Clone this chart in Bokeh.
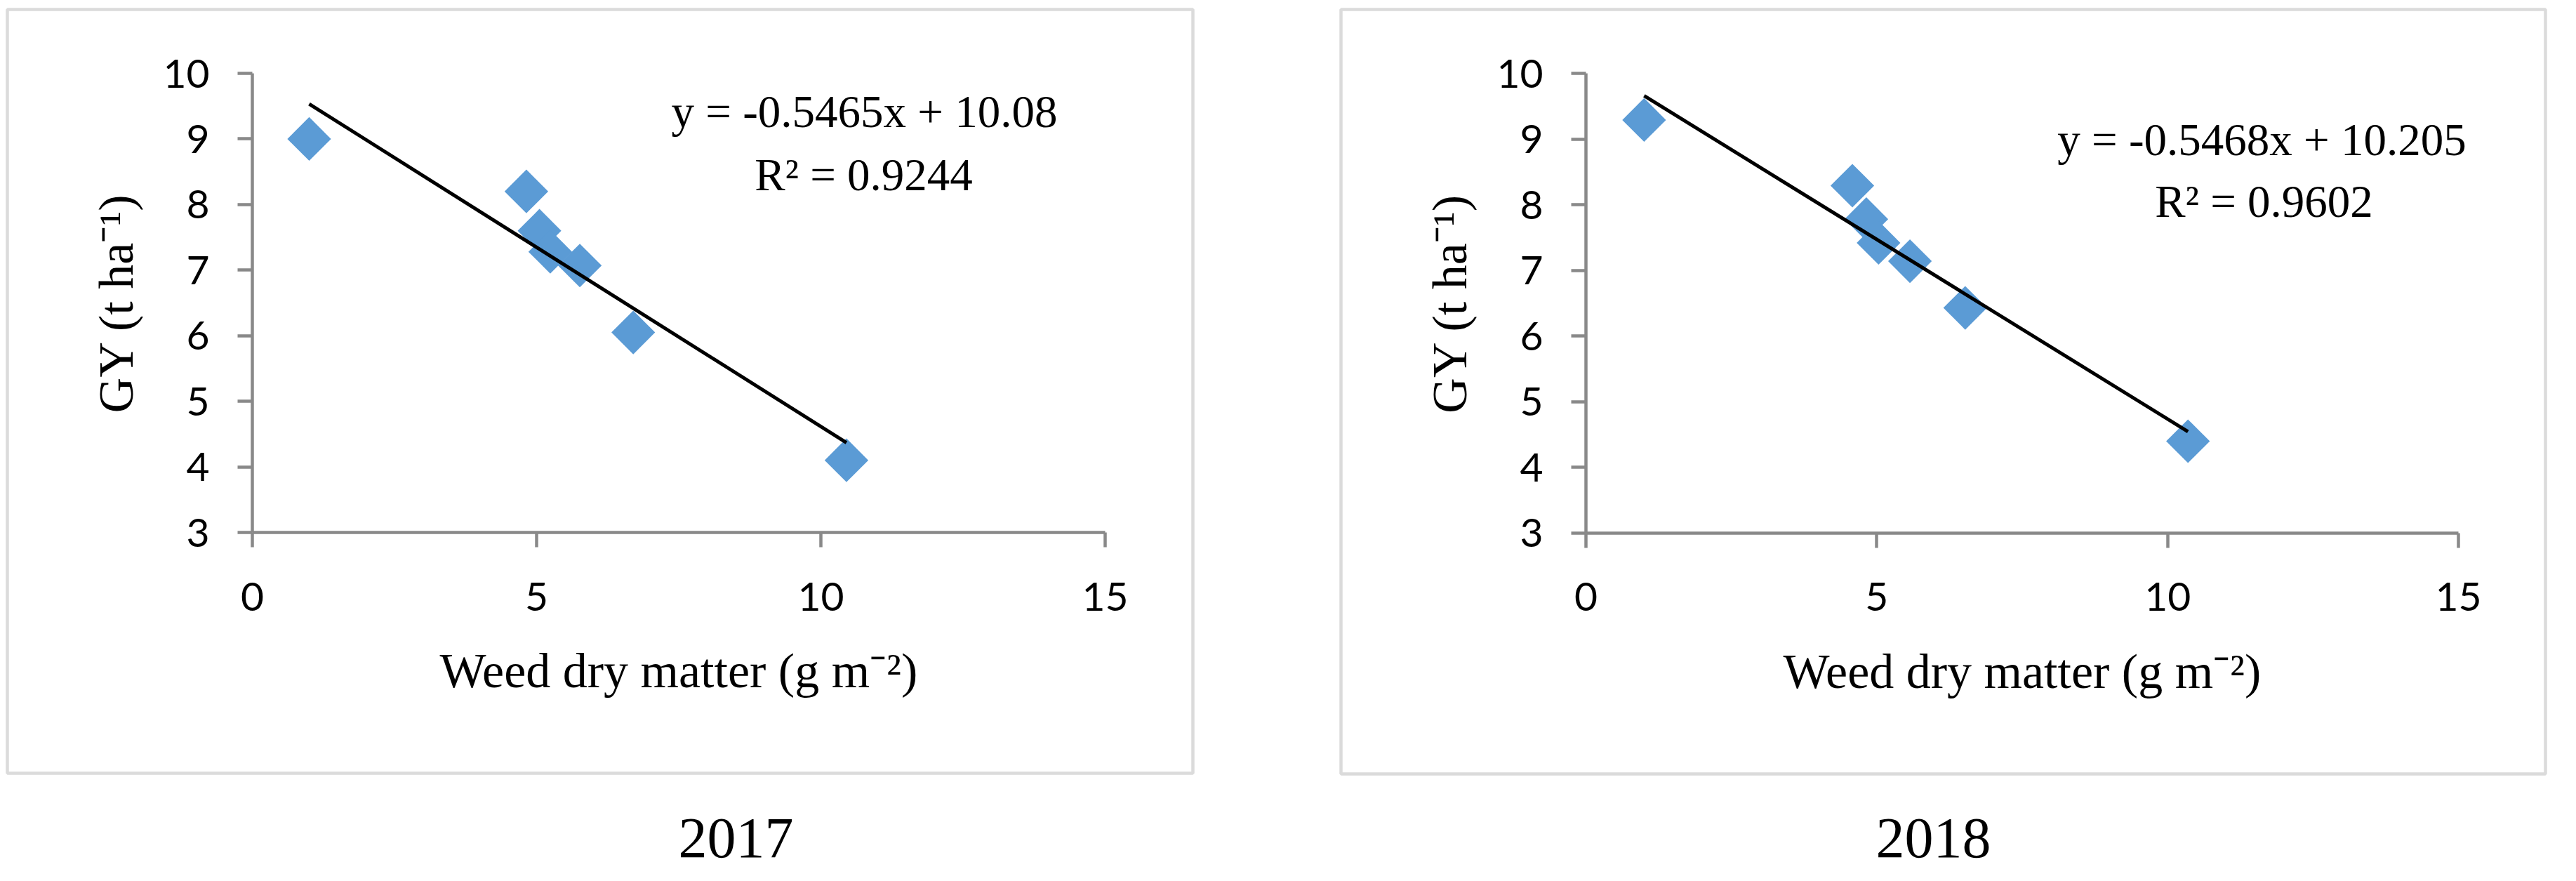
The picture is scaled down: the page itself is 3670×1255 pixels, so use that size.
import numpy as np
from bokeh.embed import file_html
from bokeh.layouts import row
from bokeh.models import BoxAnnotation, FixedTicker, Label, LinearAxis, Range1d
from bokeh.plotting import figure
from bokeh.resources import INLINE

# weed dry matter (g m-2) vs grain yield (t ha-1)
wdm_2017 = [1.0, 4.82, 5.05, 5.24, 5.76, 6.70, 10.45]
gy_2017 = [9.0, 8.2, 7.6, 7.28, 7.07, 6.05, 4.1]
fit_2017 = (-0.5465, 10.08, 0.9244)  # slope, intercept, R2

wdm_2018 = [1.0, 4.58, 4.82, 5.03, 5.57, 6.52, 10.35]
gy_2018 = [9.29, 8.29, 7.78, 7.42, 7.14, 6.43, 4.4]
fit_2018 = (-0.5468, 10.205, 0.9602)

x_ticks = [0, 5, 10, 15]
y_ticks = [3, 4, 5, 6, 7, 8, 9, 10]

GREY = "#898989"
BLUE = "#5b9bd5"
SERIF = "Liberation Serif"
SANS = "Lato"
H = 1239


def panel(wdm, gy, fit, year, width, box, origin, unit, eq_at, r2_at, year_at):
    x0_px, y10_px = origin                  # where x=0 and y=10 sit, px
    ux, uy = unit                           # px per unit

    def dx(px):
        return (px - x0_px) / ux

    def dy(py):
        return 10 - (py - y10_px) / uy

    p = figure(width=width, height=H,
               x_range=Range1d(dx(0), dx(width)), y_range=Range1d(dy(H), dy(0)),
               x_axis_type=None, y_axis_type=None, title=None,
               toolbar_location=None, output_backend="svg", min_border=0)
    p.outline_line_color = None
    p.background_fill_color = "white"
    p.border_fill_color = "white"

    left, right, top, bottom = box
    p.add_layout(BoxAnnotation(left=dx(left), right=dx(right), top=dy(top),
                               bottom=dy(bottom), fill_color=None,
                               line_color=GREY, line_width=4.5))

    xax = LinearAxis(fixed_location=3, bounds=(0, 15),
                     ticker=FixedTicker(ticks=x_ticks),
                     axis_label="Weed dry matter (g m\u207b\u00b2)")
    yax = LinearAxis(fixed_location=0, bounds=(3, 10),
                     ticker=FixedTicker(ticks=y_ticks),
                     axis_label="GY (t ha\u207b\u00b9)")
    for ax in (xax, yax):
        ax.axis_line_color = GREY
        ax.axis_line_width = 4.5
        ax.major_tick_line_color = GREY
        ax.major_tick_line_width = 4.5
        ax.major_tick_in = 0
        ax.major_tick_out = 21
        ax.minor_tick_line_color = None
        ax.major_label_text_font = SANS
        ax.major_label_text_font_size = "57px"
        ax.major_label_text_color = "black"
        ax.axis_label_text_font = SERIF
        ax.axis_label_text_font_style = "normal"
        ax.axis_label_text_font_size = "70px"
        ax.axis_label_text_color = "black"
    xax.major_label_standoff = 50
    xax.axis_label_standoff = 44
    yax.major_label_standoff = 40
    yax.axis_label_standoff = 25
    p.add_layout(xax, "below")
    p.add_layout(yax, "left")

    p.scatter(wdm, gy, marker="square", size=44, angle=np.pi / 4,
              fill_color=BLUE, line_color=None)

    slope, icpt, r2 = fit
    fx = np.array([min(wdm), max(wdm)])
    p.line(fx, slope * fx + icpt, line_color="black", line_width=5)

    texts = [(eq_at, f"y = {slope}x + {icpt}", "65px"),
             (r2_at, f"R\u00b2 = {r2}", "65px"),
             (year_at, year, "82px")]
    for (px, py), txt, size in texts:
        p.add_layout(Label(x=dx(px), y=dy(py), text=txt, text_align="center",
                           text_baseline="alphabetic", text_font=SERIF,
                           text_font_size=size, text_color="black"))
    return p


p1 = panel(wdm_2017, gy_2017, fit_2017, "2017", 1804,
           (10, 1699, 13, 1101), (359, 104), (81.0, 93.43),
           (1231, 158), (1230, 248), (1048, 1193))
p2 = panel(wdm_2018, gy_2018, fit_2018, "2018", 1848,
           (106, 1822, 13, 1102), (455, 104), (82.87, 93.57),
           (1418, 198), (1421, 286), (950, 1193))

p = row(p1, p2, spacing=0)
open("out.html", "w").write(file_html(p, INLINE))
